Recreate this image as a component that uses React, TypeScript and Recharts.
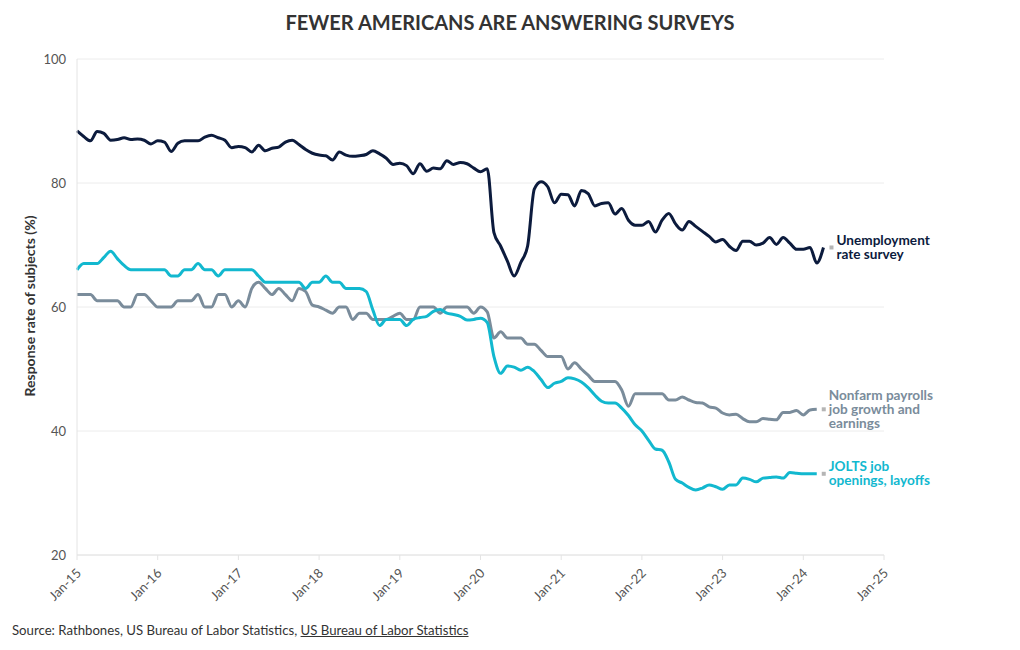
import { LineChart, Line, XAxis, YAxis, CartesianGrid } from 'recharts';

// monthly, Jan-15 onward
const unemployment = [
  88.4, 87.5, 86.8, 88.3, 88.0, 86.9, 87.0, 87.3, 87.0, 87.1, 86.9, 86.3,
  86.8, 86.6, 85.1, 86.4, 86.8, 86.8, 86.8, 87.4, 87.7, 87.3, 86.9, 85.7,
  85.9, 85.7, 85.0, 86.1, 85.2, 85.6, 85.8, 86.6, 86.9, 86.2, 85.4, 84.8,
  84.5, 84.4, 83.7, 85.0, 84.5, 84.3, 84.4, 84.6, 85.2, 84.7, 84.0, 83.0,
  83.2, 82.8, 81.5, 83.1, 81.9, 82.4, 82.3, 83.6, 83.0, 83.3, 83.1, 82.4,
  81.8, 82.3, 72.0, 69.8, 67.4, 65.0, 67.2, 69.8, 79.0, 80.2, 79.4, 76.8,
  78.2, 78.1, 76.3, 78.8, 78.3, 76.3, 76.7, 76.8, 75.0, 75.9, 74.0, 73.2,
  73.2, 73.8, 72.1, 74.0, 75.1, 73.4, 72.4, 73.8, 73.0, 72.2, 71.4, 70.5,
  70.9, 69.8, 69.1, 70.6, 70.6, 70.0, 70.3, 71.2, 70.1, 71.2, 70.3, 69.3,
  69.3, 69.6, 67.1, 69.6,
];

const nonfarm = [
  62, 62, 62, 61, 61, 61, 61, 60, 60, 62, 62, 61,
  60, 60, 60, 61, 61, 61, 62, 60, 60, 62, 62, 60,
  61, 60, 63, 64, 63, 62, 63, 62, 61, 63, 62.5, 60.3,
  60, 59.5, 59, 60, 60, 58, 59, 59, 58, 58, 58, 58.5,
  59, 58, 58, 60, 60, 60, 59, 60, 60, 60, 60, 59,
  60, 59.2, 55, 56, 55, 55, 55, 54, 54, 53, 52, 52,
  52, 50, 51, 50, 49, 48, 48, 48, 48, 46.6, 44, 46,
  46, 46, 46, 46, 45, 45, 45.5, 45, 44.6, 44.5, 43.9, 43.7,
  42.9, 42.6, 42.7, 42, 41.5, 41.5, 42, 41.9, 41.8, 43, 43, 43.3,
  42.6, 43.4, 43.5,
];

const jolts = [
  66, 67, 67, 67, 68, 69, 67.8, 66.7, 66, 66, 66, 66,
  66, 66, 65, 65, 66, 66, 67, 66, 66, 65, 66, 66,
  66, 66, 66, 65, 64, 64, 64, 64, 64, 64, 63, 64,
  64, 65, 64, 64, 63, 63, 63, 62.5, 59.5, 57, 58, 58,
  58, 57, 58, 58.3, 58.5, 59.3, 59.6, 59, 58.8, 58.5, 57.9, 58,
  58.2, 57.5, 52, 49.3, 50.5, 50.3, 49.8, 50.3, 49.6, 48.3, 47, 47.7,
  48, 48.6, 48.4, 47.9, 47, 45.8, 44.8, 44.5, 44.5, 43.7, 42.5, 41,
  40, 38.5, 37.1, 36.9, 35, 32.2, 31.6, 30.9, 30.5, 30.8, 31.3, 31,
  30.6, 31.3, 31.3, 32.4, 32.2, 31.8, 32.4, 32.5, 32.6, 32.4, 33.3, 33.2,
  33.1, 33.1, 33.1,
];

const xTickLabels = ['Jan-15', 'Jan-16', 'Jan-17', 'Jan-18', 'Jan-19', 'Jan-20', 'Jan-21', 'Jan-22', 'Jan-23', 'Jan-24', 'Jan-25'];
const yTicks = [20, 40, 60, 80, 100];

const data = unemployment.map((u, i) => ({
  m: i,
  unemployment: u,
  nonfarm: nonfarm[i],
  jolts: jolts[i],
}));

const FONT = 'Lato, "Open Sans", sans-serif';
const NAVY = '#0c1b3d';
const GREY = '#7a8c9b';
const TEAL = '#12b8cf';

function endLabel(lines: string[], color: string, last: number, gap: number) {
  return (props: any) => {
    const { cx, cy, index } = props;
    if (index !== last || cx == null) return <g key={index} />;
    const lh = 14;
    const top = cy - ((lines.length - 1) * lh) / 2;
    return (
      <g key={index}>
        <rect x={cx + gap - 7} y={cy - 2} width={4} height={4} fill="#b5b5b5" />
        {lines.map((l, k) => (
          <text key={k} x={cx + gap} y={top + k * lh + 4.5} fill={color} fontSize={13.6} fontWeight={700} fontFamily={FONT}>
            {l}
          </text>
        ))}
      </g>
    );
  };
}

const XTick = ({ x, y, payload }: any) => {
  const ax = x + 5;
  const ay = y + 12;
  return (
    <text x={ax} y={ay} transform={`rotate(-45, ${ax}, ${ay})`} textAnchor="end" fill="#555" fontSize={13} fontFamily={FONT}>
      {xTickLabels[payload.value / 12]}
    </text>
  );
};

export default function App() {
  return (
    <div style={{ position: 'relative', width: 1020, height: 650, margin: -8, fontFamily: FONT, background: '#fff' }}>
      <div style={{ position: 'absolute', top: 10, left: 0, width: 1020, textAlign: 'center', fontSize: 20, fontWeight: 700, color: '#333' }}>
        FEWER AMERICANS ARE ANSWERING SURVEYS
      </div>
      <div
        style={{
          position: 'absolute', left: 29, top: 306, transform: 'translate(-50%, -50%) rotate(-90deg)',
          whiteSpace: 'nowrap', fontSize: 14, fontWeight: 700, color: '#333',
        }}
      >
        Response rate of subjects (%)
      </div>
      <div style={{ position: 'absolute', left: 12, top: 622, fontSize: 13.2, color: '#333' }}>
        Source: Rathbones, US Bureau of Labor Statistics, <span style={{ textDecoration: 'underline' }}>US Bureau of Labor Statistics</span>
      </div>
      <div style={{ position: 'absolute', left: 0, top: 0 }}>
        <LineChart width={1020} height={650} data={data} margin={{ top: 59, right: 136, bottom: 65, left: 17 }}>
          <CartesianGrid vertical={false} stroke="#ececec" />
          <XAxis
            dataKey="m"
            type="number"
            domain={[0, 120]}
            ticks={xTickLabels.map((_, i) => i * 12)}
            height={30}
            tickSize={5}
            tickLine={{ stroke: '#e4e4e4' }}
            axisLine={{ stroke: '#e4e4e4' }}
            tick={<XTick />}
            interval={0}
          />
          <YAxis
            domain={[20, 100]}
            ticks={yTicks}
            width={60}
            tickSize={0}
            tickMargin={11}
            tickLine={false}
            axisLine={{ stroke: '#e4e4e4' }}
            tick={{ fill: '#555', fontSize: 13, fontFamily: FONT }}
          />
          <Line
            dataKey="nonfarm"
            type="monotone"
            stroke={GREY}
            strokeWidth={3}
            dot={endLabel(['Nonfarm payrolls', 'job growth and', 'earnings'], GREY, nonfarm.length - 1, 12)}
            activeDot={false}
            isAnimationActive={false}
          />
          <Line
            dataKey="jolts"
            type="monotone"
            stroke={TEAL}
            strokeWidth={3}
            dot={endLabel(['JOLTS job', 'openings, layoffs'], TEAL, jolts.length - 1, 12)}
            activeDot={false}
            isAnimationActive={false}
          />
          <Line
            dataKey="unemployment"
            type="monotone"
            stroke={NAVY}
            strokeWidth={3}
            dot={endLabel(['Unemployment', 'rate survey'], NAVY, unemployment.length - 1, 13)}
            activeDot={false}
            isAnimationActive={false}
          />
        </LineChart>
      </div>
    </div>
  );
}
